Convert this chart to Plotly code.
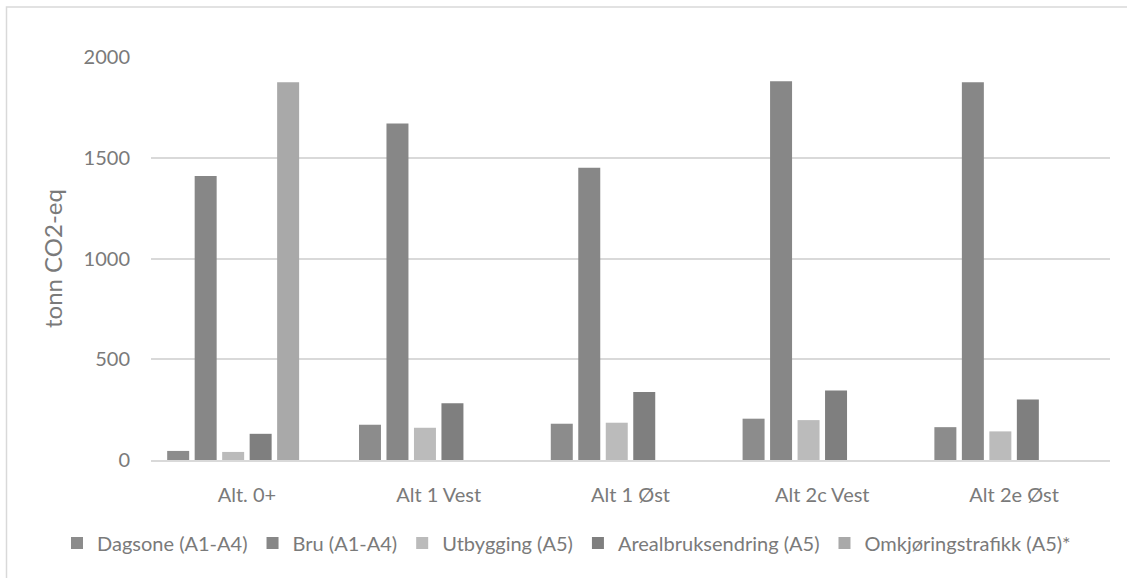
import plotly.graph_objects as go

categories = ["Alt. 0+", "Alt 1 Vest", "Alt 1 Øst", "Alt 2c Vest", "Alt 2e Øst"]
dagsone = [45, 175, 180, 205, 163]
bru = [1410, 1670, 1450, 1880, 1875]
utbygging = [40, 160, 185, 198, 142]
arealbruk = [130, 282, 337, 345, 300]
omkjoring = [1875, None, None, None, None]
placeholder = [0, 0, 0, 0, 0]  # empty sixth series slot (hidden)

series = [
    ("Dagsone (A1-A4)", dagsone, "#8c8c8c"),
    ("Bru (A1-A4)", bru, "#878787"),
    ("Utbygging (A5)", utbygging, "#bbbbbb"),
    ("Arealbruksendring (A5)", arealbruk, "#7f7f7f"),
    ("Omkjøringstrafikk (A5)*", omkjoring, "#a9a9a9"),
]

FONT = "Lato"
TXT = "#7a7a7a"

fig = go.Figure()
for name, vals, col in series:
    fig.add_trace(go.Bar(x=categories, y=vals, name=name,
                         marker=dict(color=col, line=dict(width=0))))
fig.add_trace(go.Bar(x=categories, y=placeholder, name="", showlegend=False,
                     marker=dict(color="rgba(0,0,0,0)", line=dict(width=0)),
                     hoverinfo="skip"))

W, H = 1127, 578
L, R, T, B = 151, 17, 57, 118
pw, ph = W - L - R, H - T - B

fig.update_layout(
    width=W, height=H,
    margin=dict(l=L, r=R, t=T, b=B, pad=0, autoexpand=False),
    paper_bgcolor="white", plot_bgcolor="white",
    barmode="group", bargap=0.14, bargroupgap=0.2,
    font=dict(family=FONT, color=TXT, size=20),
    showlegend=True,
    legend=dict(orientation="h", xref="paper", yref="paper",
                x=(57 - L) / pw, xanchor="left",
                y=(460 - 543) / ph, yanchor="middle",
                font=dict(family=FONT, size=20, color=TXT),
                itemwidth=30, traceorder="normal", tracegroupgap=0),
    xaxis=dict(showgrid=False, showline=True, linecolor="#d9d9d9", linewidth=1.5,
               ticks="", tickfont=dict(family=FONT, size=20, color=TXT),
               ticklabelstandoff=16),
    yaxis=dict(range=[0, 2000], tickvals=[0, 500, 1000, 1500, 2000],
               showgrid=True, gridcolor="#d9d9d9", gridwidth=1.5,
               zeroline=False, showline=False, ticks="",
               tickfont=dict(family=FONT, size=20, color=TXT),
               ticklabelstandoff=20,
               title=dict(text="tonn CO2-eq", standoff=14,
                          font=dict(family=FONT, size=24, color=TXT))),
    shapes=[dict(type="rect", xref="paper", yref="paper",
                 x0=(6.5 - L) / pw, x1=(W + 5 - L) / pw,
                 y0=(460 - (H + 5)) / ph, y1=(460 - 7) / ph,
                 line=dict(color="#d9d9d9", width=1.5), fillcolor="rgba(0,0,0,0)",
                 layer="below")],
)

fig.write_html("out.html", config={"displayModeBar": False},
               post_script="document.body.style.margin='0';document.body.style.overflow='hidden';")
